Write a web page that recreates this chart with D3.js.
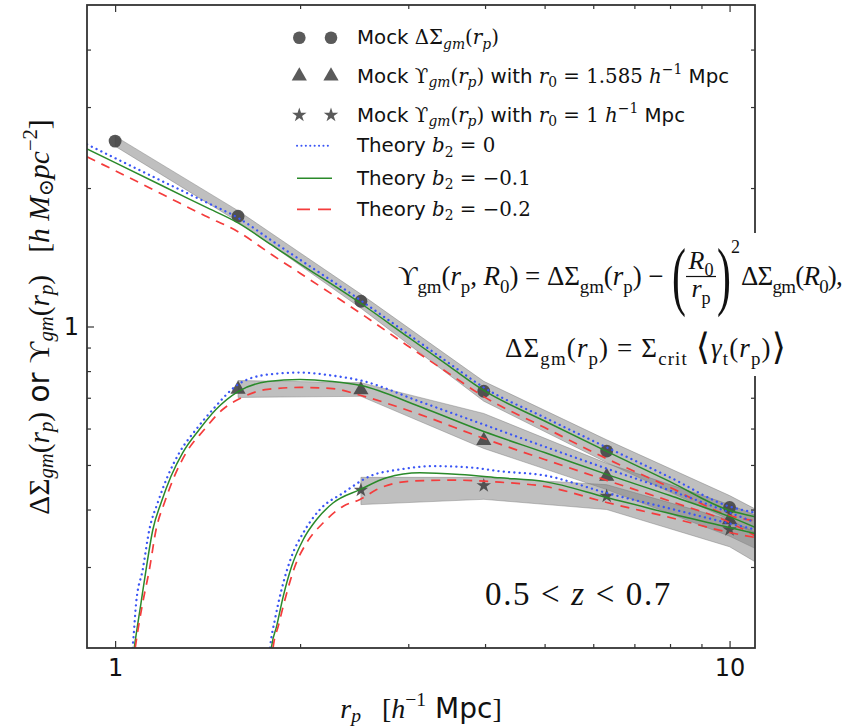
<!DOCTYPE html>
<html><head><meta charset="utf-8">
<script src="https://cdn.jsdelivr.net/npm/d3@7"></script>
<style>body{margin:0;background:#fff} svg{display:block}</style>
</head><body>
<svg id="c" width="843" height="727"></svg>
<script>
// ---------------- DATA ----------------
// Mock measurements
const mockX      = [1, 1.585, 2.512, 3.981, 6.31, 10];
const circleVals = [2.53, 1.737, 1.135, 0.723, 0.536, 0.404];
const triX       = [1.585, 2.512, 3.981, 6.31, 10];
const triVals    = [0.730, 0.728, 0.565, 0.472, 0.380];
const starX      = [2.512, 3.981, 6.31, 10];
const starVals   = [0.441, 0.451, 0.428, 0.362];

// Scatter bands (lower / upper)
const circBandX = [1, 1.585, 2.512, 3.981, 6.31, 10, 15.85];
const circLo    = [2.466, 1.690, 1.096, 0.688, 0.506, 0.380, 0.265];
const circHi    = [2.593, 1.786, 1.176, 0.760, 0.567, 0.429, 0.311];
const triBandX  = [1.585, 2.512, 3.981, 6.31, 10, 15.85];
const triLo     = [0.701, 0.705, 0.543, 0.442, 0.350, 0.261];
const triHi     = [0.763, 0.755, 0.647, 0.504, 0.410, 0.319];
const starBandX = [2.512, 3.981, 6.31, 10, 15.85];
const starLo    = [0.410, 0.421, 0.400, 0.332, 0.231];
const starHi    = [0.470, 0.470, 0.453, 0.380, 0.280];

// Theory: Delta Sigma
const dsX  = [0.9, 1.0, 1.2, 1.4, 1.585, 1.8, 2.0, 2.512, 3.0, 3.5, 3.981, 5.0, 6.31, 8.0, 10, 11];
const dsB0 = [2.489, 2.323, 2.062, 1.868, 1.723, 1.536, 1.397, 1.139, 0.962, 0.831, 0.737, 0.634, 0.546, 0.470, 0.406, 0.394];
const dsB1 = [2.434, 2.271, 2.015, 1.822, 1.680, 1.502, 1.369, 1.122, 0.948, 0.819, 0.726, 0.623, 0.535, 0.460, 0.398, 0.386];
const dsB2 = [2.338, 2.182, 1.931, 1.741, 1.607, 1.432, 1.306, 1.067, 0.906, 0.789, 0.704, 0.603, 0.516, 0.447, 0.388, 0.378];

// Theory: Upsilon (upper family)
const upAX0 = [1.059, 1.068, 1.082, 1.109, 1.137, 1.173, 1.218, 1.272, 1.354, 1.442, 1.585, 1.77, 2.0, 2.26, 2.512, 3.13, 3.981, 5.0, 6.31, 8.0, 10, 11];
const upAB0 = [0.185, 0.2013, 0.2508, 0.2962, 0.3620, 0.4138, 0.4727, 0.5314, 0.5971, 0.6600, 0.748, 0.786, 0.794, 0.782, 0.763, 0.687, 0.612, 0.548, 0.491, 0.440, 0.394, 0.375];
const upAX1 = [1.066, 1.075, 1.102, 1.123, 1.152, 1.188, 1.233, 1.288, 1.371, 1.459, 1.585, 1.77, 2.0, 2.26, 2.512, 3.13, 3.981, 5.0, 6.31, 8.0, 10, 11];
const upAB1 = [0.185, 0.2013, 0.2508, 0.2962, 0.3620, 0.4138, 0.4727, 0.5314, 0.5971, 0.6600, 0.722, 0.759, 0.767, 0.759, 0.744, 0.670, 0.591, 0.532, 0.477, 0.429, 0.386, 0.366];
const upAX2 = [1.070, 1.079, 1.109, 1.137, 1.166, 1.203, 1.249, 1.305, 1.397, 1.496, 1.585, 1.77, 2.0, 2.26, 2.512, 3.13, 3.981, 5.0, 6.31, 8.0, 10, 11];
const upAB2 = [0.185, 0.2013, 0.2508, 0.2962, 0.3620, 0.4138, 0.4727, 0.5314, 0.5971, 0.6600, 0.694, 0.730, 0.737, 0.733, 0.708, 0.644, 0.571, 0.514, 0.463, 0.417, 0.375, 0.351];

// Theory: Upsilon (lower family)
const upBX0 = [1.776, 1.788, 1.820, 1.866, 1.938, 2.024, 2.154, 2.351, 2.598, 2.907, 3.293, 3.825, 4.227, 5.0, 6.31, 8.0, 10, 11];
const upBB0 = [0.185, 0.2018, 0.2307, 0.2681, 0.3167, 0.3560, 0.4000, 0.4349, 0.4727, 0.4889, 0.4971, 0.4931, 0.4846, 0.4744, 0.4345, 0.402, 0.373, 0.362];
const upBX1 = [1.785, 1.798, 1.832, 1.878, 1.938, 2.024, 2.128, 2.265, 2.503, 2.766, 3.133, 3.639, 4.227, 5.0, 6.31, 8.0, 10, 11];
const upBB1 = [0.185, 0.2018, 0.2231, 0.2593, 0.3012, 0.3443, 0.3805, 0.4138, 0.4420, 0.4689, 0.4808, 0.4768, 0.4689, 0.460, 0.4249, 0.392, 0.3656, 0.3548];
const upBX2 = [1.796, 1.809, 1.843, 1.890, 1.962, 2.050, 2.182, 2.351, 2.503, 2.665, 3.018, 3.548, 4.227, 5.0, 6.31, 8.0, 10, 11];
const upBB2 = [0.185, 0.2018, 0.2231, 0.2550, 0.3012, 0.3387, 0.3744, 0.4068, 0.4206, 0.4420, 0.4610, 0.4634, 0.4587, 0.449, 0.4144, 0.3844, 0.3566, 0.3478];

// Ticks
const xMajor = [1, 10];
const xMinor = [2, 3, 4, 5, 6, 7, 8, 9];
const yMajor = [1];
const yMinor = [0.3, 0.4, 0.5, 0.6, 0.7, 0.8, 0.9, 2, 3, 4];

// ---------------- CHART ----------------
const SERIF = '"Liberation Serif","DejaVu Serif",serif';
const DSERIF = '"DejaVu Serif","Liberation Serif",serif';
const SANS  = '"DejaVu Sans","Liberation Sans",sans-serif';
const L = 87, R = 755, T = 5, B = 648;
const x = d3.scaleLog().domain([0.9, 11]).range([L, R]);
const y = d3.scaleLog().domain([0.2, 5]).range([B, T]);
const svg = d3.select('#c');

svg.append('defs').append('clipPath').attr('id', 'clip')
  .append('rect').attr('x', L).attr('y', T).attr('width', R - L).attr('height', B - T);
const plot = svg.append('g').attr('clip-path', 'url(#clip)');

const zip = (xs, ys) => xs.map((v, i) => ({x: v, y: ys[i]}));
const zip3 = (xs, lo, hi) => xs.map((v, i) => ({x: v, lo: lo[i], hi: hi[i]}));

// bands
const area = d3.area().x(d => x(d.x)).y0(d => y(d.lo)).y1(d => y(d.hi));
[[circBandX, circLo, circHi], [triBandX, triLo, triHi], [starBandX, starLo, starHi]].forEach(b => {
  plot.append('path').attr('d', area(zip3(...b)))
    .attr('fill', '#808080').attr('fill-opacity', 0.5)
    .attr('stroke', '#6e6e6e').attr('stroke-opacity', 0.5).attr('stroke-width', 0.8);
});

// markers
const sym = (type, size) => d3.symbol().type(type).size(size)();
const MK = '#454545';
function markers(xs, ys, type, size) {
  plot.selectAll(null).data(zip(xs, ys)).enter().append('path')
    .attr('d', sym(type, size))
    .attr('transform', d => `translate(${x(d.x)},${y(d.y)})`)
    .attr('fill', MK).attr('fill-opacity', 0.9);
}
markers(mockX, circleVals, d3.symbolCircle, 130);
markers(triX, triVals, d3.symbolTriangle, 100);
markers(starX, starVals, d3.symbolStar, 65);

// theory lines
const line = d3.line().x(d => x(d.x)).y(d => y(d.y)).curve(d3.curveMonotoneX);
const styles = [
  {stroke: '#3a55f5', w: 2.3, dash: '0.1,5.2', cap: 'round'},
  {stroke: '#2a8a2a', w: 1.5, dash: null, cap: 'butt'},
  {stroke: '#f43c3c', w: 1.7, dash: '9,7', cap: 'butt'}
];
const families = [
  [[dsX, dsB0], [dsX, dsB1], [dsX, dsB2]],
  [[upAX0, upAB0], [upAX1, upAB1], [upAX2, upAB2]],
  [[upBX0, upBB0], [upBX1, upBB1], [upBX2, upBB2]]
];
families.forEach(fam => fam.forEach((s, k) => {
  const st = styles[k];
  plot.append('path').attr('d', line(zip(s[0], s[1])))
    .attr('fill', 'none').attr('stroke', st.stroke).attr('stroke-width', st.w)
    .attr('stroke-dasharray', st.dash).attr('stroke-linecap', st.cap);
}));

// axes (ticks inward on all sides)
const TK = '#333';
function axis(gen, tr, vals, size, labels, pad) {
  const g = svg.append('g').attr('transform', tr)
    .call(gen.tickValues(vals).tickSize(size).tickPadding(labels ? pad : 0)
      .tickFormat(labels ? d3.format('') : ''));
  g.select('.domain').remove();
  g.selectAll('line').attr('stroke', TK).attr('stroke-width', 1.2);
  g.selectAll('text').attr('font-family', SANS).attr('font-size', 24).attr('fill', '#111');
  return g;
}
axis(d3.axisBottom(x), `translate(0,${B})`, xMajor, -7, true, 11);
axis(d3.axisBottom(x), `translate(0,${B})`, xMinor, -4, false);
axis(d3.axisTop(x), `translate(0,${T})`, xMajor, -7, false);
axis(d3.axisTop(x), `translate(0,${T})`, xMinor, -4, false);
axis(d3.axisLeft(y), `translate(${L},0)`, yMajor, -7, true, 8);
axis(d3.axisLeft(y), `translate(${L},0)`, yMinor, -4, false);
axis(d3.axisRight(y), `translate(${R},0)`, yMajor, -7, false);
axis(d3.axisRight(y), `translate(${R},0)`, yMinor, -4, false);

svg.append('rect').attr('x', L).attr('y', T).attr('width', R - L).attr('height', B - T)
  .attr('fill', 'none').attr('stroke', '#333').attr('stroke-width', 1.8);

// ---------------- rich text helper ----------------
function rich(g, px, py, runs, base, anchor, serif, subSh) {
  const t = g.append('text').attr('x', px).attr('y', py).attr('font-size', base)
    .attr('text-anchor', anchor || 'start').attr('fill', '#111').style('white-space', 'pre');
  let cur = 0;
  runs.forEach(r => {
    let sh = r.sh || 0;
    if (r.sub && subSh !== undefined) sh = subSh;
    t.append('tspan').text(r.t)
      .attr('font-family', r.f === 'sans' ? SANS : (serif || SERIF))
      .attr('font-style', r.i ? 'italic' : 'normal')
      .attr('font-size', base * (r.s || 1))
      .attr('dy', ((sh - cur) * base).toFixed(2));
    cur = sh;
  });
  return t;
}
function fit(t, target) {
  const n = t.node();
  const w = n.getComputedTextLength(), c = n.getNumberOfChars();
  if (c > 1) t.attr('letter-spacing', ((target - w) / c).toFixed(3));
  return t;
}
const Rm = t => ({t});
const It = t => ({t, i: true});
const Sa = t => ({t, f: 'sans'});
const sub = t => ({t, s: 0.7, sh: 0.28, sub: true});
const subI = t => ({t, s: 0.7, sh: 0.28, i: true, sub: true});
const sup = t => ({t, s: 0.7, sh: -0.42});

// ---------------- legend ----------------
const lg = svg.append('g');
const rowY = [37.7, 76, 115, 145.7, 178.3, 209.3];
const mx = [299.3, 331];
const LMK = '#5a5a5a';
mx.forEach(m => {
  lg.append('path').attr('d', sym(d3.symbolCircle, 125)).attr('transform', `translate(${m},${rowY[0]})`).attr('fill', LMK);
  lg.append('path').attr('d', sym(d3.symbolTriangle, 100)).attr('transform', `translate(${m},${rowY[1]})`).attr('fill', LMK);
  lg.append('path').attr('d', sym(d3.symbolStar, 65)).attr('transform', `translate(${m},${rowY[2]})`).attr('fill', LMK);
});
styles.forEach((st, k) => {
  lg.append('line').attr('x1', 297).attr('x2', 332).attr('y1', rowY[3 + k]).attr('y2', rowY[3 + k])
    .attr('stroke', st.stroke).attr('stroke-width', k === 0 ? 2 : st.w)
    .attr('stroke-dasharray', k === 0 ? '0.1,4.3' : (k === 2 ? '13,8' : null))
    .attr('stroke-linecap', st.cap);
});
const legendText = [
  [Sa('Mock '), Rm('ΔΣ'), subI('gm'), Rm('('), It('r'), subI('p'), Rm(')')],
  [Sa('Mock '), Rm('ϒ'), subI('gm'), Rm('('), It('r'), subI('p'), Rm(')'), Sa(' with '), It('r'), sub('0'), Rm(' = 1.585 '), It('h'), sup('−1'), Sa(' Mpc')],
  [Sa('Mock '), Rm('ϒ'), subI('gm'), Rm('('), It('r'), subI('p'), Rm(')'), Sa(' with '), It('r'), sub('0'), Rm(' = 1 '), It('h'), sup('−1'), Sa(' Mpc')],
  [Sa('Theory '), It('b'), sub('2'), Rm(' = 0')],
  [Sa('Theory '), It('b'), sub('2'), Rm(' = −0.1')],
  [Sa('Theory '), It('b'), sub('2'), Rm(' = −0.2')]
];
legendText.forEach((runs, i) => rich(lg, 357, rowY[i] + 6.5, runs, 19.8, 'start', DSERIF, 0.22));

// ---------------- axis labels ----------------
const xl = rich(svg, 420, 718, [It('r'), subI('p'), Rm('   ['), It('h'), sup('−1'), Sa(' Mpc'), Rm(']')], 28, 'start', SERIF, 0.16);
{
  const bb = xl.node().getBBox();
  xl.attr('x', 421 - bb.width / 2);
}
const ylab = svg.append('g');
const yt = rich(ylab, 0, 0, [Rm('ΔΣ'), subI('gm'), Rm('('), It('r'), subI('p'), Rm(')'), Sa(' or '), Rm('ϒ'), subI('gm'), Rm('('), It('r'), subI('p'), Rm(')'),
  Rm('   ['), It('h M'), sub('⊙'), It('pc'), sup('−2'), Rm(']')], 29.5, 'start', SERIF, 0.13);
{
  const bb = yt.node().getBBox();
  // rotated: local x runs upward on screen; centre the label around y ≈ 329
  ylab.attr('transform', `translate(49,${317 + bb.x + bb.width / 2}) rotate(-90)`);
}

// ---------------- formula block ----------------
svg.append('rect').attr('x', 600).attr('y', 233).attr('width', 243).attr('height', 143).attr('fill', '#fff');
const fm = svg.append('g');
fit(rich(fm, 398, 285, [Rm('ϒ'), sub('gm'), Rm('('), It('r'), sub('p'), Rm(', '), It('R'), sub('0'), Rm(') = ΔΣ'), sub('gm'), Rm('('), It('r'), sub('p'), Rm(') − ')], 27), 272);
fm.append('text').text('(').attr('font-family', SERIF).attr('font-size', 76)
  .attr('transform', 'translate(672,301) scale(0.55,1)').attr('fill', '#111');
fm.append('text').text(')').attr('font-family', SERIF).attr('font-size', 76)
  .attr('transform', 'translate(717,301) scale(0.55,1)').attr('fill', '#111');
rich(fm, 701, 269, [It('R'), sub('0')], 26, 'middle');
fm.append('line').attr('x1', 686).attr('x2', 716).attr('y1', 276.5).attr('y2', 276.5).attr('stroke', '#111').attr('stroke-width', 1.2);
rich(fm, 701, 297, [It('r'), sub('p')], 26, 'middle');
rich(fm, 731, 253, [Rm('2')], 18);
fit(rich(fm, 741, 285, [Rm('ΔΣ'), sub('gm'), Rm('('), It('R'), sub('0'), Rm('),')], 27), 101);

fit(rich(fm, 505, 357, [Rm('ΔΣ'), sub('gm'), Rm('('), It('r'), sub('p'), Rm(') = Σ'), sub('crit'), Rm(' '), {t: '⟨', s: 1.35, sh: 0.08}, It('γ'), sub('t'), Rm('('), It('r'), sub('p'), Rm(')'), {t: '⟩', s: 1.35, sh: 0.08}], 27), 282);

fit(rich(svg, 485, 605, [Rm('0.5 < '), It('z'), Rm(' < 0.7')], 33), 187);
</script>
</body></html>
